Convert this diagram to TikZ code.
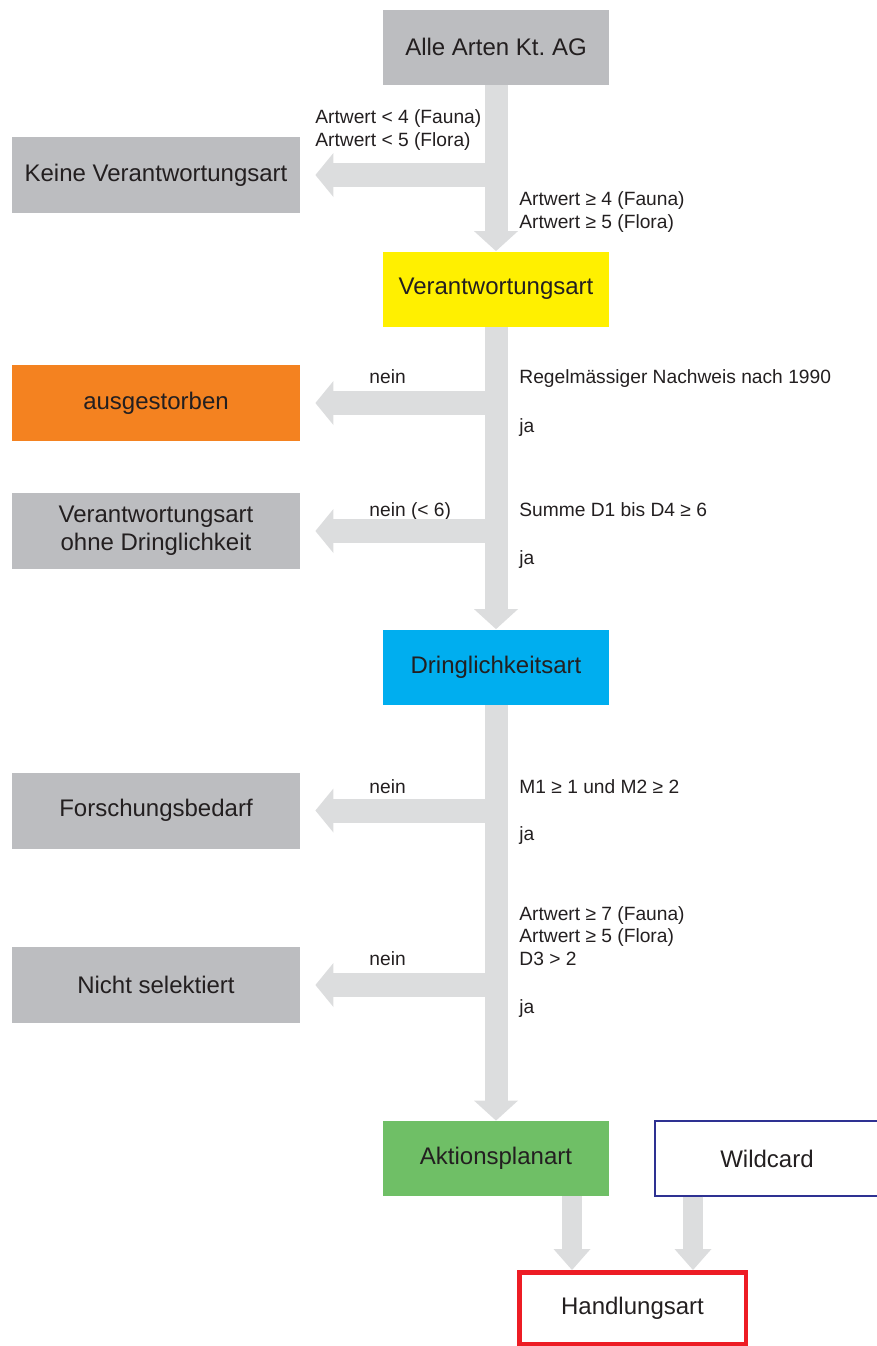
\documentclass[tikz,border=0pt]{standalone}
\usepackage{fontspec}
\setmainfont{Liberation Sans}
\usepackage{xcolor}
\usetikzlibrary{positioning,arrows.meta}
\definecolor{boxgray}{HTML}{BCBDC0}
\definecolor{flowgray}{HTML}{DCDDDE}
\definecolor{vyellow}{HTML}{FFF000}
\definecolor{vorange}{HTML}{F48220}
\definecolor{vcyan}{HTML}{00AEEF}
\definecolor{vgreen}{HTML}{6FBF66}
\definecolor{wblue}{HTML}{2E3192}
\definecolor{hred}{HTML}{ED1C24}
\definecolor{txt}{HTML}{231F20}

\begin{document}
\begin{tikzpicture}[
  x=0.5pt, y=-0.5pt,
  every node/.style={text=txt},
  box/.style={minimum height=37.5pt, inner sep=0pt, align=center, font=\fontsize{12}{14.2}\selectfont},
  mbox/.style={box, minimum width=113pt},
  lbox/.style={box, minimum width=144pt, minimum height=38pt, fill=boxgray},
  cond/.style={anchor=base west, inner sep=0pt, align=left, font=\fontsize{9.6}{11.2}\selectfont},
  flow/.style={draw=flowgray, line width=11.5pt, -{Triangle[width=22pt, length=10pt, line width=0pt]}},
  branch/.style={flow, line width=12pt, -{Triangle[width=22pt, length=9pt, line width=0pt]}, shorten >=7.5pt},
  sflow/.style={draw=flowgray, line width=10pt, -{Triangle[width=18.5pt, length=10.5pt, line width=0pt]}}
]
  \useasboundingbox (0,0) rectangle (877,1346);

  \node[mbox, fill=boxgray] (alle) at (496,47) {Alle Arten Kt.\ AG};
  \node[lbox] (keine) at (156,175) {Keine Verantwortungsart};
  \node[mbox, fill=vyellow] (verant) at (496,289) {Verantwortungsart};
  \node[lbox, fill=vorange] (ausg) at (156,403) {ausgestorben};
  \node[lbox] (ohne) at (156,531) {Verantwortungsart\\ohne Dringlichkeit};
  \node[mbox, fill=vcyan] (dring) at (496,667) {Dringlichkeitsart};
  \node[lbox] (forsch) at (156,810.5) {Forschungsbedarf};
  \node[lbox] (nicht) at (156,985) {Nicht selektiert};
  \node[mbox, fill=vgreen] (aktion) at (496,1158.5) {Aktionsplanart};
  \node[mbox, draw=wblue, line width=0.7pt, minimum width=112pt] (wild) at (767,1158.5) {Wildcard};
  \node[box, draw=hred, line width=2.25pt, minimum width=113.25pt, minimum height=35.75pt] (handl) at (632.5,1308) {Handlungsart};

  \node[cond] (c1) at (315,146) {Artwert < 4 (Fauna)\\Artwert < 5 (Flora)};
  \node[cond] (c2) at (519,228) {Artwert ≥ 4 (Fauna)\\Artwert ≥ 5 (Flora)};
  \node[cond] (n1) at (369,383) {nein};
  \node[cond] (c3) at (519,383) {Regelmässiger Nachweis nach 1990};
  \node[cond] (j1) at (519,432) {ja};
  \node[cond] (n2) at (369,516) {nein (< 6)};
  \node[cond] (c4) at (519,516) {Summe D1 bis D4 ≥ 6};
  \node[cond] (j2) at (519,564) {ja};
  \node[cond] (n3) at (369,793) {nein};
  \node[cond] (c5) at (519,793) {M1 ≥ 1 und M2 ≥ 2};
  \node[cond] (j3) at (519,840) {ja};
  \node[cond] (c6) at (519,965) {Artwert ≥ 7 (Fauna)\\Artwert ≥ 5 (Flora)\\D3 > 2};
  \node[cond] (n4) at (369,965) {nein};
  \node[cond] (j4) at (519,1013) {ja};

  \draw[flow] (alle.south) -- (verant.north);
  \draw[branch] (alle.south |- keine) -- (keine);
  \draw[flow] (verant.south) -- (dring.north);
  \draw[branch] (verant.south |- ausg) -- (ausg);
  \draw[branch] (verant.south |- ohne) -- (ohne);
  \draw[flow] (dring.south) -- (aktion.north);
  \draw[branch] (dring.south |- forsch) -- (forsch);
  \draw[branch] (dring.south |- nicht) -- (nicht);
  \draw[sflow] ([xshift=38pt]aktion.south) -- ([xshift=38pt]aktion.south |- handl.north);
  \draw[sflow] ([xshift=-37pt]wild.south) -- ([xshift=-37pt]wild.south |- handl.north);
\end{tikzpicture}
\end{document}
